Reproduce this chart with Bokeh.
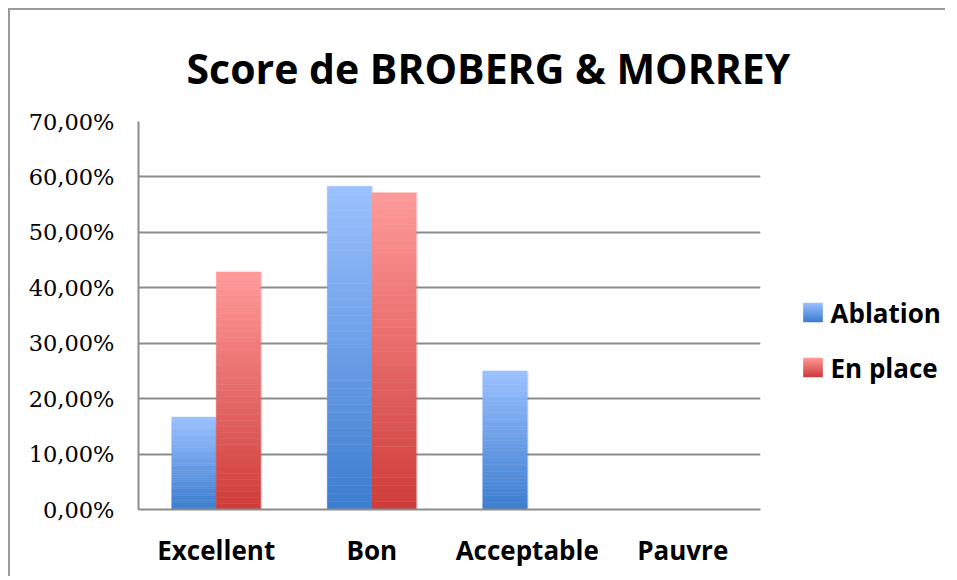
from bokeh.plotting import figure
from bokeh.layouts import row
from bokeh.models import (FactorRange, Range1d, ColumnDataSource, FixedTicker,
                          CustomJSTickFormatter, InlineStyleSheet)
from bokeh.core.properties import value
from bokeh.transform import dodge
from bokeh.embed import file_html
from bokeh.resources import INLINE

categories = ["Excellent", "Bon", "Acceptable", "Pauvre"]
series_names = ["Ablation", "En place"]
ablation = [0.1667, 0.5833, 0.25, 0.0]
en_place = [0.4286, 0.5714, 0.0, 0.0]
y_ticks = [0.0, 0.1, 0.2, 0.3, 0.4, 0.5, 0.6, 0.7]

blue_top, blue_bot = (0x9B, 0xC1, 0xFF), (0x3C, 0x7D, 0xCF)
red_top, red_bot = (0xFF, 0x9A, 0x9A), (0xCE, 0x3C, 0x39)

def lerp(c1, c2, t):
    return "#%02x%02x%02x" % tuple(int(round(a + (b - a) * t)) for a, b in zip(c1, c2))

N = 40
def gradient_source(values, top_c, bot_c):
    xs, bs, ts, cs = [], [], [], []
    for cat, v in zip(categories, values):
        if v <= 0:
            continue
        for i in range(N):
            xs.append(cat)
            bs.append(v * i / N)
            ts.append(v * (i + 1) / N)
            cs.append(lerp(bot_c, top_c, (i + 0.5) / N))
    return ColumnDataSource(dict(x=xs, b=bs, t=ts, c=cs))

H = 566
MB_TOP, MB_BOT = 111, 67
MAIN_W, LEG_W = 787, 148
p = figure(x_range=FactorRange(*categories), y_range=Range1d(0, 0.70),
           width=MAIN_W, height=H, output_backend="svg", toolbar_location=None,
           min_border_left=128, min_border_top=MB_TOP, min_border_right=37, min_border_bottom=MB_BOT)
p.outline_line_color = None
p.background_fill_color = "white"
p.border_fill_color = "white"

p.title.text = "Score de BROBERG & MORREY"
p.title.text_font = "Open Sans"
p.title.text_font_style = "bold"
p.title.text_font_size = "41px"
p.title.align = "left"
p.title.offset = 48
p.title.standoff = 51
p.title.text_color = "black"

bw = 0.286
shadow_src_a = ColumnDataSource(dict(x=categories, t=ablation))
shadow_src_e = ColumnDataSource(dict(x=categories, t=en_place))
p.vbar(x=dodge("x", -bw / 2 + 0.012, range=p.x_range), width=bw, top="t", bottom=0,
       source=shadow_src_a, fill_color="black", fill_alpha=0.07, line_color=None)
p.vbar(x=dodge("x", bw / 2 + 0.012, range=p.x_range), width=bw, top="t", bottom=0,
       source=shadow_src_e, fill_color="black", fill_alpha=0.07, line_color=None)

sa = gradient_source(ablation, blue_top, blue_bot)
se = gradient_source(en_place, red_top, red_bot)
p.vbar(x=dodge("x", -bw / 2, range=p.x_range), width=bw, bottom="b", top="t",
       fill_color="c", line_color="c", line_width=0.5, source=sa)
p.vbar(x=dodge("x", bw / 2, range=p.x_range), width=bw, bottom="b", top="t",
       fill_color="c", line_color="c", line_width=0.5, source=se)

p.yaxis.ticker = FixedTicker(ticks=y_ticks)
p.yaxis.formatter = CustomJSTickFormatter(code="return (tick*100).toFixed(2).replace('.', ',') + '%';")
p.yaxis.major_label_text_font = "DejaVu Serif"
p.yaxis.major_label_text_font_size = "22.5px"
p.yaxis.major_label_text_color = "black"
p.yaxis.major_label_standoff = 18
p.yaxis.major_tick_line_color = None
p.yaxis.minor_tick_line_color = None
p.yaxis.axis_line_color = "#8c8c8c"
p.yaxis.axis_line_width = 2

p.xaxis.major_label_text_font = "Open Sans"
p.xaxis.major_label_text_font_style = "bold"
p.xaxis.major_label_text_font_size = "26px"
p.xaxis.major_label_text_color = "black"
p.xaxis.major_label_standoff = 16
p.xaxis.major_tick_line_color = None
p.xaxis.minor_tick_line_color = None
p.xaxis.axis_line_color = "#8c8c8c"
p.xaxis.axis_line_width = 2

p.xgrid.grid_line_color = None
p.ygrid.grid_line_color = "#8c8c8c"
p.ygrid.grid_line_width = 2
p.ygrid.ticker = FixedTicker(ticks=y_ticks)

# legend panel: its frame is aligned with the main frame; coordinates in page pixels
X0 = 10 + MAIN_W
FT, FB = 10 + MB_TOP, 10 + H - MB_BOT
lf = figure(width=LEG_W, height=H, x_range=Range1d(X0, X0 + LEG_W), y_range=Range1d(FB, FT),
            output_backend="svg", toolbar_location=None,
            min_border_left=0, min_border_right=0, min_border_top=MB_TOP, min_border_bottom=MB_BOT)
lf.axis.visible = False
lf.grid.grid_line_color = None
lf.outline_line_color = None
lf.background_fill_color = "white"
lf.border_fill_color = "white"

sw_x0, sw_size, txt_x = 803, 19, 830
item_y = [312, 367]          # vertical centres of the legend rows
for name, yc, (tc, bc) in zip(series_names, item_y, [(blue_top, blue_bot), (red_top, red_bot)]):
    M = 19
    top0 = yc - sw_size / 2
    cols = [lerp(tc, bc, (i + 0.5) / M) for i in range(M)]
    lf.quad(left=[sw_x0] * M, right=[sw_x0 + sw_size] * M,
            top=[top0 + sw_size * i / M for i in range(M)],
            bottom=[top0 + sw_size * (i + 1) / M for i in range(M)],
            fill_color=cols, line_color=cols, line_width=0.5)
    lf.text(x=[txt_x], y=[yc], text=[name], text_font=value("Open Sans"),
            text_font_style="bold", text_font_size="26px", text_color="black",
            text_baseline="middle", text_align="left")

layout = row(p, lf, spacing=0)
layout.stylesheets = [InlineStyleSheet(css=":host { margin: 8px 0 0 8px; border-left: 2px solid #9a9a9a; border-top: 2px solid #9a9a9a; }")]

open("out.html", "w").write(file_html(layout, INLINE))
